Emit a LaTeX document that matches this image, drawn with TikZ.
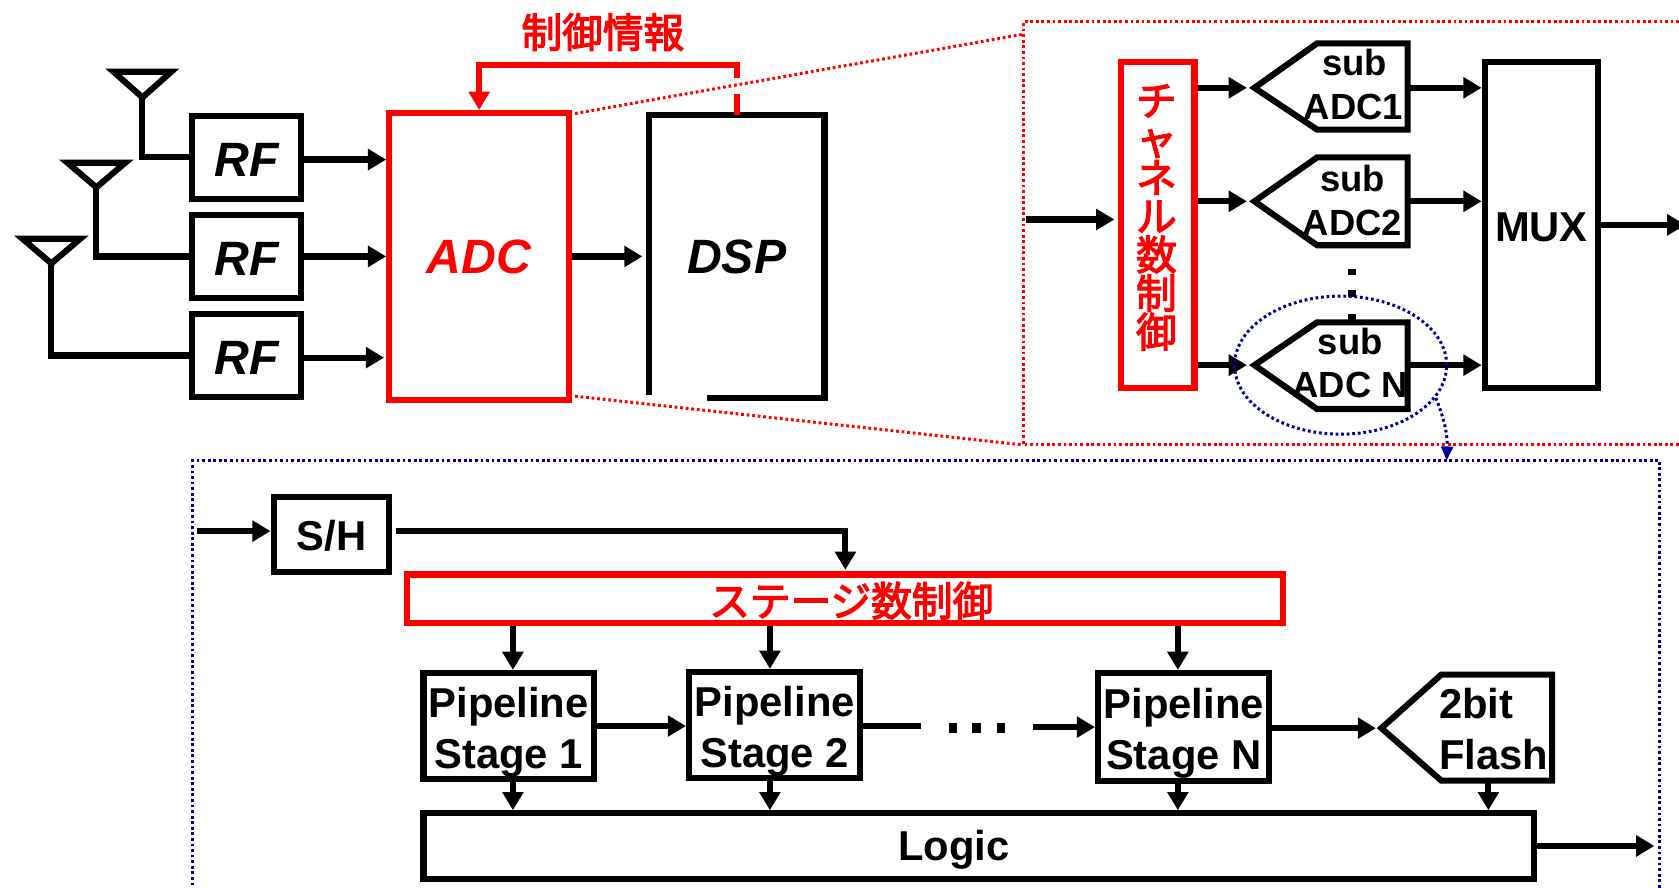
\documentclass[tikz,border=0pt]{standalone}
\usepackage{fontspec}
\setmainfont{Liberation Sans}
\newfontfamily\cjk[FakeBold=3]{Noto Sans CJK JP}
\usetikzlibrary{arrows.meta,shapes.geometric}
\definecolor{navy}{RGB}{0,0,153}
\begin{document}
\begin{tikzpicture}[x=1pt,y=-1pt,>={Triangle[length=17pt,width=19pt]},line width=5.7pt,
b/.style={draw,inner sep=0pt,align=center,font=\bfseries\fontsize{39}{48}\selectfont},
r/.style={b,draw=red,text=red},
rfb/.style={b,minimum width=102pt,minimum height=77pt,text height=36pt,font=\bfseries\itshape\fontsize{45}{50}\selectfont},
pipe/.style={b,minimum width=159pt,minimum height=99pt,text height=88pt},
lb/.style={inner sep=0pt,align=center,font=\bfseries\fontsize{34}{41}\selectfont},
jp/.style={inner sep=0pt,align=center,text=red,font=\cjk\fontsize{38}{36}\selectfont},
dot/.style={fill,inner sep=0pt,minimum width=7.5pt,minimum height=7pt},
reddot/.style={red,line width=2.8pt,dash pattern=on 2.6pt off 2.6pt},
bluedot/.style={navy,line width=2.8pt,dash pattern=on 2.6pt off 2.6pt}]
\clip (0,0) rectangle (1568,829);
% antennas and RF
\coordinate (ant1) at (133,91);
\coordinate (ant2) at (90,175);
\coordinate (ant3) at (48,246);
\draw (106,67)--(160,67)--(ant1)--cycle;
\draw (63,152)--(117,152)--(ant2)--cycle;
\draw (21,223)--(75,223)--(ant3)--cycle;
\node[rfb] (rf1) at (230.5,147) {RF};
\node[rfb] (rf2) at (230.5,239.5) {RF};
\node[rfb] (rf3) at (230.5,332) {RF};
\draw (ant1)|-(rf1.west);
\draw (ant2)|-(rf2.west);
\draw (ant3)|-(rf3.west);
\node[r,minimum width=168pt,minimum height=268pt,font=\bfseries\itshape\fontsize{45}{50}\selectfont] (adc) at (447.5,239.5) {ADC};
\node[inner sep=0pt,outer sep=0pt,minimum width=164pt,minimum height=265pt,font=\bfseries\itshape\fontsize{45}{50}\selectfont] (dsp) at (688,239.5) {DSP};
\coordinate (dspa) at (606,369);
\coordinate (dspb) at (660,372);
\draw (dspa)--(dspa|-dsp.north)--(dsp.north east)--(dsp.south east)--(dspb);
\draw[->] ([yshift=-2pt]rf1.east)--([yshift=-2pt]rf1.east-|adc.west);
\draw[->] (rf2.east)--(rf2.east-|adc.west);
\draw[->] ([yshift=-2pt]rf3.east)--([yshift=-2pt,xshift=-2pt]rf3.east-|adc.west);
\draw[->] (adc.east)--([xshift=-6pt]adc.east-|dspa);
% control loop
\coordinate (ctla) at (688,88);
\coordinate (ctlb) at (688,73);
\coordinate (ctlc) at (688,60.5);
\draw[red] (dsp.north)--(ctla);
\draw[red,->] (ctlb)--(ctlc)-|(adc.north);
\node[jp] (info) at (563,30) {制御情報};
% zoom lines and ADC detail
\coordinate (fra) at (955.5,20.5);
\coordinate (frb) at (955.5,415.5);
\coordinate (frc) at (1568,20.5);
\coordinate (frd) at (1568,415.5);
\draw[reddot] (frc)--(fra)--(frb)--(frd);
\draw[reddot] (537,106)--(955.5,32);
\draw[reddot] (537,370)--(frb);
\node[r,minimum width=69pt,minimum height=305pt] (chctl) at (1081,210) {};
\node[jp] (chlb) at (1080,203) {チ\\ャ\\ネ\\ル\\数\\制\\御};
\node[b,minimum width=106pt,minimum height=305pt,text height=31pt] (mux) at (1439.5,210) {MUX};
\coordinate (chin) at (958,205);
\draw[->] (chin)--([xshift=-3pt]chin-|chctl.west);
\draw[->] (mux.east)--(1574,210);
\coordinate (s1in) at (1171.5,82);
\coordinate (s2in) at (1171.5,188);
\coordinate (s3in) at (1171.5,341);
\coordinate (s1out) at (1314.5,82);
\coordinate (s2out) at (1314.5,188);
\coordinate (s3out) at (1314.5,341);
\draw (s1in)--(1230,40.5)--(1314.5,40.5)--(1314.5,121)--(1230,121)--cycle;
\draw (s2in)--(1230,147)--(1314.5,147)--(1314.5,229)--(1230,229)--cycle;
\draw (s3in)--(1230,301)--(1314.5,301)--(1314.5,382)--(1230,382)--cycle;
\node[lb] (sub1) at (1264,79) {\hspace{2pt}sub\\ADC1};
\node[lb] (sub2) at (1263,187) {sub\\ADC2};
\node[lb] (sub3) at (1261,339) {sub\\ADC N};
\draw[->,shorten >=7pt] (s1in-|chctl.east)--(s1in);
\draw[->,shorten >=7pt] (s2in-|chctl.east)--(s2in);
\draw[->,shorten >=7pt] (s3in-|chctl.east)--(s3in);
\draw[->] (s1out)--(s1out-|mux.west);
\draw[->] (s2out)--(s2out-|mux.west);
\draw[->] (s3out)--(s3out-|mux.west);
\node[dot,minimum height=6pt] (vd1) at (1263,254) {};
\node[dot,minimum height=6pt] (vd2) at (1263,274) {};
\node[dot,minimum height=6pt] (vd3) at (1263,296) {};
\node[bluedot,draw,ellipse,minimum width=198pt,minimum height=129pt] (ell) at (1252,341) {};
% pipeline ADC
\coordinate (bfa) at (1550,829);
\coordinate (bfb) at (1550,430);
\coordinate (bfc) at (180,430);
\coordinate (bfd) at (180,829);
\coordinate (bfin) at (1351,430);
\draw[bluedot] (bfa)--(bfb)--(bfc)--(bfd);
\draw[bluedot,->,>={Triangle[length=13pt,width=11pt]}] (ell.-19) to[bend left=12] (bfin);
\node[b,minimum width=108pt,minimum height=70pt,text height=30pt] (sh) at (309.5,499.5) {S/H};
\node[r,minimum width=818pt,minimum height=45pt] (stage) at (789.5,559) {};
\node[jp] (stagelb) at (795,561) {ステージ数制御};
\coordinate (shin) at (184,496);
\draw[->] (shin)--(shin-|sh.west);
\coordinate (shout) at (370,496);
\draw[->] (shout)-|([yshift=1.5pt]stage.north);
\node[pipe] (p1) at (475,678) {Pipeline\\Stage 1};
\node[pipe,minimum width=160pt] (p2) at (723.5,677) {Pipeline\\Stage 2};
\node[pipe,minimum width=160pt,minimum height=101pt] (pn) at (1105.5,679) {Pipeline\\Stage N};
\node[b,minimum width=1037pt,minimum height=61pt] (logic) at (914,790) {};
\node[inner sep=0pt,font=\bfseries\fontsize{39}{48}\selectfont] (logiclb) at (891,794) {Logic};
\draw[->] ([xshift=4pt]p1.north|-stage.south)--([xshift=4pt]p1.north);
\draw[->] ([xshift=-4.5pt]p2.north|-stage.south)--([xshift=-4.5pt]p2.north);
\draw[->] ([xshift=-5.5pt]pn.north|-stage.south)--([xshift=-5.5pt]pn.north);
\draw[->] ([xshift=4pt]p1.south)--([xshift=4pt]p1.south|-logic.north);
\draw[->] ([xshift=-4.5pt]p2.south)--([xshift=-4.5pt]p2.south|-logic.north);
\draw[->] ([xshift=-5.5pt]pn.south)--([xshift=-5.5pt]pn.south|-logic.north);
\draw[->] (p1.east)--(p2.west|-p1.east);
\coordinate (hda) at (860,678);
\draw (p2.east|-hda)--(hda);
\node[dot,minimum width=8pt,minimum height=9pt] (hd1) at (890,680) {};
\node[dot,minimum width=8pt,minimum height=9pt] (hd2) at (912,680) {};
\node[dot,minimum width=8pt,minimum height=9pt] (hd3) at (935,680) {};
\coordinate (hdb) at (965,679);
\draw[->] (hdb)--(hdb-|pn.west);
% flash
\coordinate (fin) at (1290,680);
\coordinate (fbot) at (1390,729);
\draw (fin)--(1346,630)--(1449.5,630)--(1449.5,729)--(1346,729)--cycle;
\node[lb,align=left,anchor=west,font=\bfseries\fontsize{39}{48}\selectfont] (flash) at (1341,681) {2bit\\Flash};
\draw[->,shorten >=5pt] (fin-|pn.east)--(fin);
\draw[->] (fbot)--(fbot|-logic.north);
\coordinate (lgout) at (1545,790);
\draw[->] (logic.east)--(lgout);
\end{tikzpicture}
\end{document}
